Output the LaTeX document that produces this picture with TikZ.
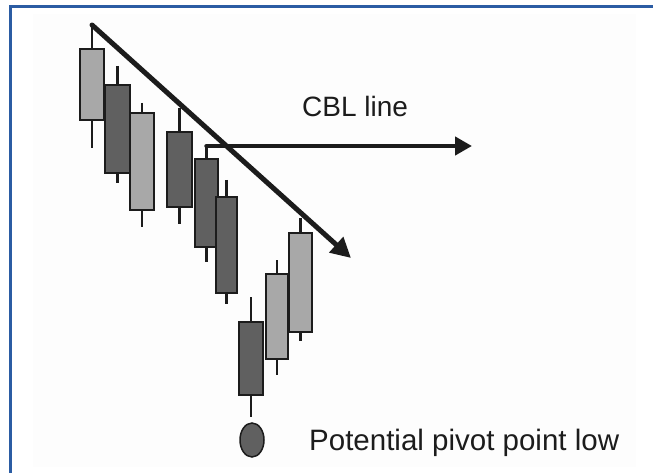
\documentclass[tikz,border=0pt]{standalone}
\usepackage{fontspec}
\setmainfont{Liberation Sans}
\usetikzlibrary{arrows.meta,shapes.geometric}
\definecolor{frameblue}{RGB}{43,92,163}
\definecolor{lightc}{RGB}{168,168,168}
\definecolor{darkc}{RGB}{96,96,96}
\definecolor{inkc}{RGB}{28,28,28}
\tikzset{
  wick/.style={draw=inkc, line width=2.8pt},
  lightbody/.style={draw=inkc, fill=lightc, line width=1.5pt, inner sep=0pt, outer sep=0pt, rectangle},
  darkbody/.style={draw=inkc, fill=darkc, line width=1.5pt, inner sep=0pt, outer sep=0pt, rectangle},
  trendline/.style={draw=inkc, line width=5pt, line cap=round, line join=round},
  label/.style={text=inkc, inner sep=0pt},
  pivotdot/.style={ellipse, draw=inkc, fill=darkc, line width=1.5pt, inner sep=0pt, minimum width=24pt, minimum height=34pt}
}
\newcommand\cndl[8]{%
  \coordinate (#1t) at ({(#2+#3)/2},#6);
  \coordinate (#1b) at ({(#2+#3)/2},#7);
  \draw[wick] (#1t) -- (#1b);
  \node[#8, minimum width={(#3-#2)*1pt}, minimum height={(#5-#4)*1pt}] (#1) at ({(#2+#3)/2},{(#4+#5)/2}) {};
}
\begin{document}
\begin{tikzpicture}[x=1pt,y=-1pt]
\useasboundingbox (0,0) rectangle (653,473);
\fill[white] (0,0) rectangle (653,473);
\fill[black!0.8] (33,14) rectangle (636,467);
\draw[frameblue, line width=3pt] (10,473) -- (10,6.5) -- (653,6.5);
\cndl{c1}{80}{104}{49}{120}{25}{148}{lightbody}
\cndl{c2}{105}{130}{85}{173}{66}{183}{darkbody}
\cndl{c3}{130}{154}{113}{210}{103}{227}{lightbody}
\cndl{c4}{167}{192}{132}{207}{108}{224}{darkbody}
\cndl{c5}{195}{218}{159}{247}{146}{262}{darkbody}
\cndl{c6}{216}{237}{197}{293}{180}{304}{darkbody}
\cndl{c7}{239}{263}{322}{395}{297}{417}{darkbody}
\cndl{c8}{266}{288}{274}{359}{260}{375}{lightbody}
\cndl{c9}{289}{312}{233}{332}{218}{341}{lightbody}
\coordinate (diagend) at (351,258);
\coordinate (cblend) at (472,146);
\draw[trendline, -{Triangle[length=20pt,width=20pt]}] (c1t) -- (diagend);
\draw[trendline, line width=4.5pt, -{Triangle[length=17pt,width=18pt]}] (c5t) -- (cblend);
\node[label, font=\fontsize{28}{32}\selectfont, anchor=base west] (cbl) at (302,117) {CBL line};
\node[pivotdot] (piv) at (252,440) {};
\node[label, font=\fontsize{29.5}{34}\selectfont, anchor=base west] (pivtxt) at (309,450) {Potential pivot point low};
\end{tikzpicture}
\end{document}
